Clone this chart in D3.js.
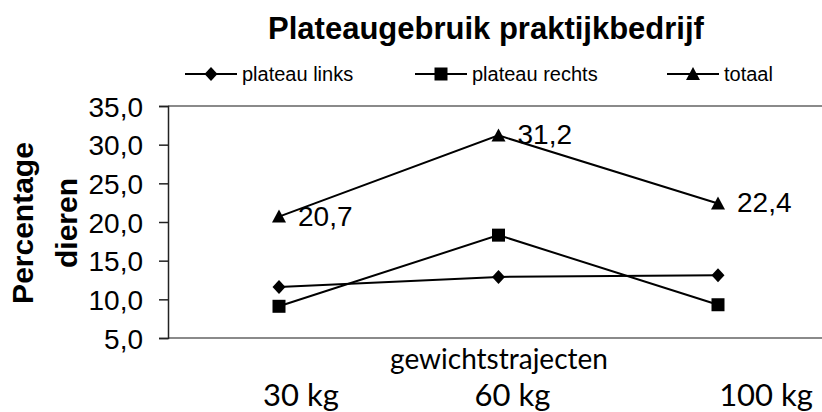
<!DOCTYPE html>
<html>
<head>
<meta charset="utf-8">
<script src="https://cdn.jsdelivr.net/npm/d3@7"></script>
<style>
  html, body { margin: 0; padding: 0; background: #fff; }
  svg { display: block; }
</style>
</head>
<body>
<script>
const categories = ["30 kg", "60 kg", "100 kg"];
const plateauLinks = [11.6, 12.9, 13.1];
const plateauRechts = [9.1, 18.3, 9.3];
const totaal = [20.7, 31.2, 22.4];
const yTicks = [5, 10, 15, 20, 25, 30, 35];
const seriesNames = ["plateau links", "plateau rechts", "totaal"];
const title = "Plateaugebruik praktijkbedrijf";
const xTitle = "gewichtstrajecten";
const yTitle = ["Percentage", "dieren"];

const W = 822, H = 412;
const svg = d3.select("body").append("svg").attr("width", W).attr("height", H);

const plot = { left: 168, top: 106, bottom: 338, right: 822 };
const x = d3.scalePoint().domain(categories).range([279, 718]);
const y = d3.scaleLinear().domain([5, 35]).range([plot.bottom, plot.top]);
const fmt = v => d3.format(".1f")(v).replace(".", ",");

// frame lines
svg.append("line").attr("x1", plot.left).attr("x2", plot.right).attr("y1", plot.top).attr("y2", plot.top)
  .attr("stroke", "#8a8a8a").attr("stroke-width", 2);
svg.append("line").attr("x1", plot.left).attr("x2", plot.right).attr("y1", plot.bottom).attr("y2", plot.bottom)
  .attr("stroke", "#8a8a8a").attr("stroke-width", 2);

// y axis
const yAxis = d3.axisLeft(y).tickValues(yTicks).tickFormat(fmt).tickSize(9).tickPadding(16);
const gy = svg.append("g").attr("transform", `translate(${plot.left},0)`).call(yAxis);
gy.select(".domain").attr("stroke", "#222").attr("stroke-width", 1.5);
gy.selectAll(".tick line").attr("stroke", "#222").attr("stroke-width", 1.5);
gy.selectAll(".tick text").attr("font-family", "Liberation Sans, Arial, sans-serif")
  .attr("font-size", 28).attr("fill", "#000").attr("dy", "0.36em");

// title
svg.append("text").attr("x", 486).attr("y", 39).attr("text-anchor", "middle")
  .attr("font-family", "Liberation Sans, Arial, sans-serif").attr("font-weight", "bold")
  .attr("font-size", 31).text(title);

// y title
const yt = svg.append("text").attr("transform", "translate(0,223) rotate(-90)")
  .attr("text-anchor", "middle").attr("font-family", "Liberation Sans, Arial, sans-serif")
  .attr("font-weight", "bold").attr("font-size", 30);
yt.append("tspan").attr("x", 0).attr("y", 33).text(yTitle[0]);
yt.append("tspan").attr("x", 0).attr("y", 77).text(yTitle[1]);

// x title and category labels
svg.append("text").attr("x", 499).attr("y", 369).attr("text-anchor", "middle")
  .attr("font-family", "Lato, sans-serif").attr("font-size", 28).text(xTitle);
const labelNudge = [22, 14, 48];
svg.selectAll(".cat").data(categories).join("text").attr("class", "cat")
  .attr("x", (d, i) => x(d) + labelNudge[i]).attr("y", 406).attr("text-anchor", "middle")
  .attr("font-family", "Lato, sans-serif").attr("font-size", 31).text(d => d);

// symbols
const sym = {
  "plateau links": d3.symbol().type(d3.symbolDiamond2 || d3.symbolDiamond).size(110),
  "plateau rechts": d3.symbol().type(d3.symbolSquare).size(150),
  "totaal": d3.symbol().type(d3.symbolTriangle).size(110)
};
const diamond = d => `M0,${-7}L${6.5},0L0,${7}L${-6.5},0Z`;
const tri = `M0,-7L7,6L-7,6Z`;
const square = `M-6.5,-6.5H6.5V6.5H-6.5Z`;
const shapes = { "plateau links": diamond(), "plateau rechts": square, "totaal": tri };

const series = [
  { name: seriesNames[0], values: plateauLinks },
  { name: seriesNames[1], values: plateauRechts },
  { name: seriesNames[2], values: totaal }
];
const line = d3.line().x((d, i) => x(categories[i])).y(d => y(d));

series.forEach(s => {
  svg.append("path").attr("d", line(s.values)).attr("fill", "none").attr("stroke", "#000").attr("stroke-width", 2);
  svg.selectAll(null).data(s.values).join("path")
    .attr("transform", (d, i) => `translate(${x(categories[i])},${y(d)})`)
    .attr("d", shapes[s.name]).attr("fill", "#000");
});

// data labels totaal
svg.selectAll(".dl").data(totaal).join("text").attr("class", "dl")
  .attr("x", (d, i) => x(categories[i]) + 19).attr("y", d => y(d) + 9)
  .attr("font-family", "Liberation Sans, Arial, sans-serif").attr("font-size", 28)
  .text(d => fmt(d));

// legend
const legendX = [185, 415, 667];
const lg = svg.selectAll(".lg").data(seriesNames).join("g").attr("class", "lg")
  .attr("transform", (d, i) => `translate(${legendX[i]},74)`);
lg.append("line").attr("x1", 0).attr("x2", 52).attr("stroke", "#000").attr("stroke-width", 2);
lg.append("path").attr("transform", "translate(26,0)").attr("d", d => shapes[d]).attr("fill", "#000");
lg.append("text").attr("x", 57).attr("y", 7).attr("font-family", "Liberation Sans, Arial, sans-serif")
  .attr("font-size", 20).text(d => d);
</script>
</body>
</html>
